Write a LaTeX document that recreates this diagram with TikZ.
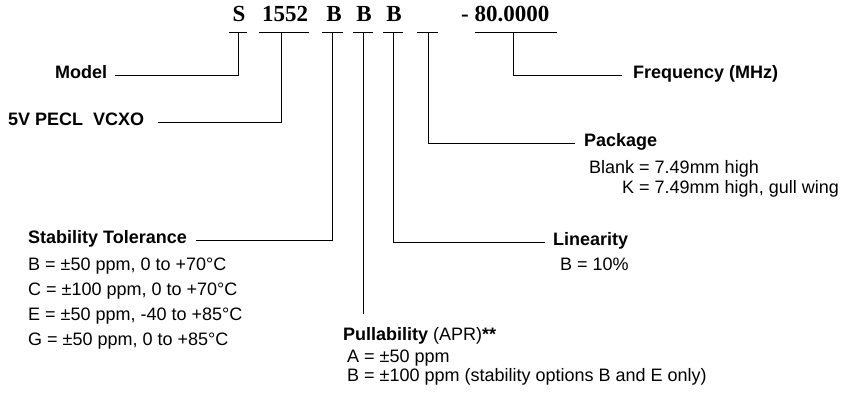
\documentclass[tikz,border=0pt]{standalone}
\usepackage{fontspec}
\setmainfont{Liberation Sans}
\newfontfamily\codefont{Liberation Serif}

\tikzset{
  codechar/.style={font=\codefont\bfseries\fontsize{23}{23}\selectfont, inner sep=0pt, anchor=base},
  headlbl/.style={font=\bfseries\fontsize{18}{20}\selectfont, inner sep=0pt, anchor=base west},
  optlbl/.style={font=\fontsize{18}{20}\selectfont, inner sep=0pt, anchor=base west},
  leader/.style={line width=1pt},
}

\begin{document}
\begin{tikzpicture}[x=1pt,y=-1pt]
  \useasboundingbox (0,0) rectangle (849,404);

  % Part number fields
  \node[codechar] (cs) at (239,22) {S};
  \node[codechar] (cmodel) at (285,22) {1552};
  \node[codechar] (cb1) at (334,22) {B};
  \node[codechar] (cb2) at (364,22) {B};
  \node[codechar] (cb3) at (394,22) {B};
  \node[codechar, anchor=base west] (cfreq) at (461,22) {- 80.0000};

  % Underlines and tick points
  \draw[leader] (229,33) -- (247,33);
  \draw[leader] (259,33) -- (309,33);
  \draw[leader] (322,33) -- (343,33);
  \draw[leader] (353,33) -- (373,33);
  \draw[leader] (383,33) -- (403,33);
  \draw[leader] (417,33) -- (438,33);
  \draw[leader] (475,33) -- (557,33);
  \coordinate (ts) at (238,33);
  \coordinate (tm) at (281,33);
  \coordinate (tb1) at (332,33);
  \coordinate (tb2) at (363,33);
  \coordinate (tb3) at (393,33);
  \coordinate (tk) at (428,33);
  \coordinate (tf) at (513,33);

  % Field labels
  \node[headlbl] (model) at (55,78) {Model};
  \node[headlbl] (vcxo) at (8,125) {5V PECL\ \ VCXO};
  \node[headlbl] (freq) at (633,78) {Frequency (MHz)};
  \node[headlbl] (pkg) at (584,146) {Package};
  \node[optlbl] (pkgblank) at (589,173) {Blank = 7.49mm high};
  \node[optlbl] (pkgk) at (622,193) {K = 7.49mm high, gull wing};
  \node[headlbl] (lin) at (553,245) {Linearity};
  \node[optlbl] (linb) at (560,270) {B = 10\%};
  \node[headlbl] (stab) at (28,243) {Stability Tolerance};
  \node[optlbl] (stabb) at (28,270) {B = ±50 ppm, 0 to +70°C};
  \node[optlbl] (stabc) at (28,295) {C = ±100 ppm, 0 to +70°C};
  \node[optlbl] (stabe) at (28,320) {E = ±50 ppm, -40 to +85°C};
  \node[optlbl] (stabg) at (28,345) {G = ±50 ppm, 0 to +85°C};
  \node[headlbl] (pull) at (343,340) {Pullability \mdseries(APR)\bfseries**};
  \node[optlbl] (pulla) at (347,362) {A = ±50 ppm};
  \node[optlbl] (pullb) at (347,381) {B = ±100 ppm (stability options B and E only)};

  % Leaders
  \draw[leader] (ts) |- ([xshift=8pt]model.mid east);
  \draw[leader] (tm) |- ([xshift=14pt]vcxo.mid east);
  \draw[leader] (tb1) |- ([xshift=9pt]stab.mid east);
  \draw[leader, shorten >=13pt] (tb2) -- (tb2 |- pull.north);
  \draw[leader] (tb3) |- ([xshift=-8pt]lin.mid west);
  \draw[leader] (tk) |- ([xshift=-9pt]pkg.mid west);
  \draw[leader] (tf) |- ([xshift=-11pt]freq.mid west);
\end{tikzpicture}
\end{document}
